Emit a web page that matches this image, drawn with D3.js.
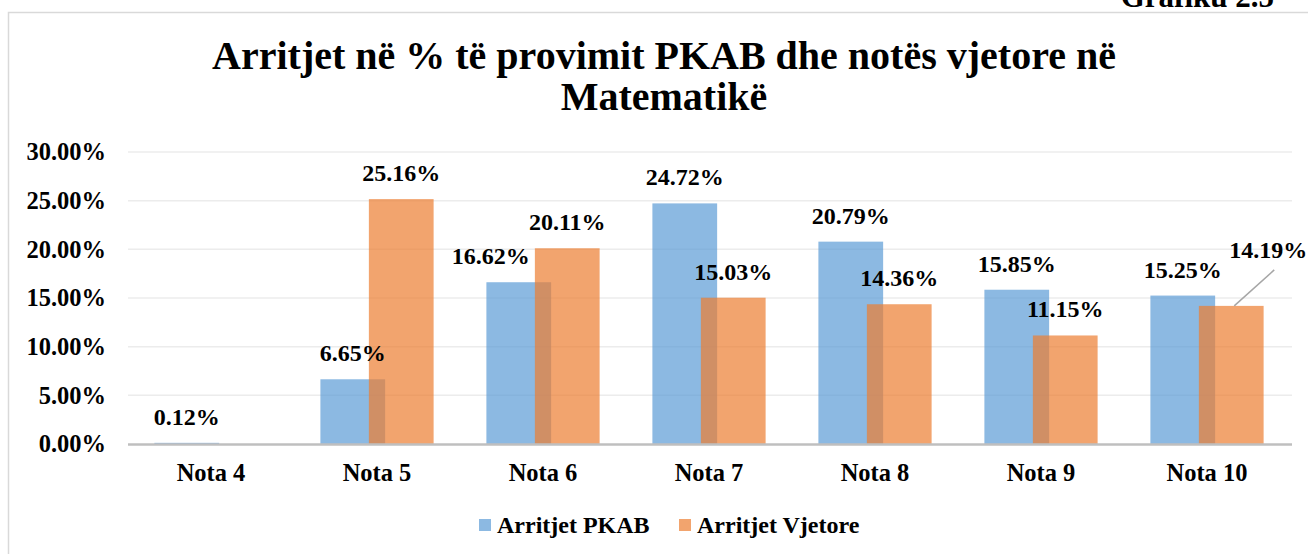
<!DOCTYPE html>
<html>
<head>
<meta charset="utf-8">
<script src="https://cdn.jsdelivr.net/npm/d3@7"></script>
<style>
  body { margin: 0; background: #fff; }
</style>
</head>
<body>
<div id="chart"></div>
<script>
const width = 1308;
const height = 554;

// data
const categories = ['Nota 4', 'Nota 5', 'Nota 6', 'Nota 7', 'Nota 8', 'Nota 9', 'Nota 10'];
const pkab = [0.0012, 0.0665, 0.1662, 0.2472, 0.2079, 0.1585, 0.1525];
const vjetore = [null, 0.2516, 0.2011, 0.1503, 0.1436, 0.1115, 0.1419];
const yTicks = [0, 0.05, 0.10, 0.15, 0.20, 0.25, 0.30];
const seriesNames = ['Arritjet PKAB', 'Arritjet Vjetore'];

const colors = ['#5B9BD5', '#ED7D31'];
const FONT = '"Liberation Serif", "Times New Roman", serif';

const svg = d3.select('#chart')
  .append('svg')
  .attr('width', width)
  .attr('height', height)
  .attr('font-family', FONT)
  .attr('font-weight', 'bold');

// chart frame
svg.append('rect')
  .attr('x', 8.5).attr('y', 12.5)
  .attr('width', 1400).attr('height', 700)
  .attr('fill', '#fff')
  .attr('stroke', '#d9d9d9')
  .attr('stroke-width', 1.5);

svg.append('text')
  .attr('x', 1274).attr('y', 7)
  .attr('text-anchor', 'end')
  .attr('font-size', 31)
  .text('Grafiku 2.5');

// title
const title = svg.append('text')
  .attr('text-anchor', 'middle')
  .attr('font-size', 40);
title.append('tspan').attr('x', 664).attr('y', 69)
  .text('Arritjet në % të provimit PKAB dhe notës vjetore në');
title.append('tspan').attr('x', 664).attr('y', 110)
  .text('Matematikë');

const x = d3.scaleBand()
  .domain(categories)
  .range([128, 1290]);

const y = d3.scaleLinear()
  .domain([0, 0.30])
  .range([444, 152]);

const barW = x.bandwidth() * 0.39;
const shift = x.bandwidth() * 0.146;

// gridlines
svg.append('g')
  .selectAll('line')
  .data(yTicks.slice(1))
  .join('line')
  .attr('x1', 128).attr('x2', 1292)
  .attr('y1', d => y(d)).attr('y2', d => y(d))
  .attr('stroke', '#ececec')
  .attr('stroke-width', 1.5);

// y axis labels
const yAxis = svg.append('g')
  .attr('transform', 'translate(128,0)')
  .call(d3.axisLeft(y).tickValues(yTicks).tickFormat(d3.format('.2%')).tickSize(0).tickPadding(22));
yAxis.select('.domain').remove();
yAxis.attr('font-family', FONT).attr('font-size', 24.5);
yAxis.selectAll('text').attr('fill', '#000');

// bars
const bx = [
  c => x(c) + x.bandwidth() / 2 - shift - barW / 2,
  c => x(c) + x.bandwidth() / 2 + shift - barW / 2
];

[pkab, vjetore].forEach((vals, s) => {
  svg.append('g')
    .selectAll('rect')
    .data(categories.map((c, i) => ({ c, v: vals[i] })).filter(d => d.v !== null))
    .join('rect')
    .attr('x', d => bx[s](d.c))
    .attr('y', d => y(d.v))
    .attr('width', barW)
    .attr('height', d => y(0) - y(d.v))
    .attr('fill', colors[s])
    .attr('fill-opacity', 0.7);
});

// x axis
svg.append('line')
  .attr('x1', 128).attr('x2', 1292)
  .attr('y1', 444.5).attr('y2', 444.5)
  .attr('stroke', '#bfbfbf')
  .attr('stroke-width', 2.5);

svg.append('g')
  .selectAll('text')
  .data(categories)
  .join('text')
  .attr('x', d => x(d) + x.bandwidth() / 2)
  .attr('y', 481)
  .attr('text-anchor', 'middle')
  .attr('font-size', 24.5)
  .text(d => d);

// data labels
const fmt = d3.format('.2%');
const labelDx = { '0-Nota 6': -28 };
[pkab, vjetore].forEach((vals, s) => {
  categories.forEach((c, i) => {
    const v = vals[i];
    if (v === null) return;
    let lx = bx[s](c) + barW / 2 + (labelDx[s + '-' + c] || 0);
    let ly = y(v) - 18;
    if (s === 1 && c === 'Nota 10') {
      // label pulled out with a leader line
      const ox = bx[s](c) + barW / 2;
      lx = ox + 37;
      ly = y(v) - 48;
      svg.append('line')
        .attr('x1', ox + 3).attr('y1', y(v))
        .attr('x2', ox + 43).attr('y2', y(v) - 36)
        .attr('stroke', '#a6a6a6')
        .attr('stroke-width', 1.5);
    }
    svg.append('text')
      .attr('x', lx).attr('y', ly)
      .attr('text-anchor', 'middle')
      .attr('font-size', 24)
      .text(fmt(v));
  });
});

// legend
const legend = svg.append('g');
const legX = [479, 679];
seriesNames.forEach((n, i) => {
  legend.append('rect')
    .attr('x', legX[i]).attr('y', 519)
    .attr('width', 12).attr('height', 12)
    .attr('fill', colors[i])
    .attr('fill-opacity', 0.7);
  legend.append('text')
    .attr('x', legX[i] + 18).attr('y', 533)
    .attr('font-size', 24)
    .text(n);
});
</script>
</body>
</html>
